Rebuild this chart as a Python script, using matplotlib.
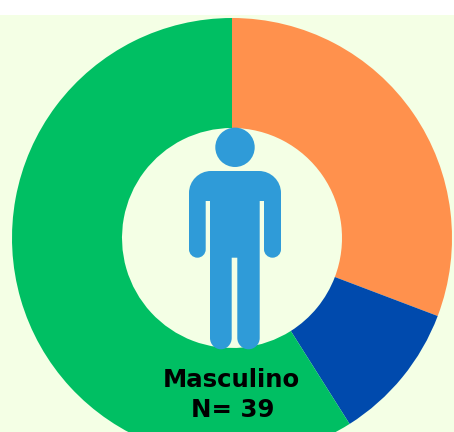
import matplotlib
matplotlib.use("Agg")
import matplotlib.pyplot as plt
from matplotlib.patches import Circle, PathPatch
from matplotlib.path import Path

# Counts
counts = [12, 4, 23]
colors = ["#FF914D", "#004AAD", "#00BF63"]
labels = ["Masculino", "N= 39"]

BG = "#F4FFE5"
ICON = "#2F9BD8"
W, H = 454, 432
K = 0.55


def Y(py):
    # picture pixels count from the top, the axes from the bottom
    return H - py


fig = plt.figure(figsize=(W / 100, H / 100), dpi=100, facecolor="white")
ax = fig.add_axes([0, 0, 1, 417 / H], facecolor=BG)

ax.pie(counts, colors=colors, startangle=90, counterclock=False,
       center=(232, Y(238)), radius=220, frame=True,
       wedgeprops={"width": 110, "linewidth": 0})
ax.set_xlim(0, W)
ax.set_ylim(0, 417)
ax.set_aspect("auto")
ax.set_xticks([])
ax.set_yticks([])
for s in ax.spines.values():
    s.set_visible(False)

# Person icon: head plus one outline for body, arms and legs
ax.add_patch(Circle((235, Y(147.3)), 19.7, facecolor=ICON, edgecolor="none", zorder=3))

verts = [(211, 171)]
codes = [Path.MOVETO]


def line(x, y):
    verts.append((x, y))
    codes.append(Path.LINETO)


def corner(cx, cy, x, y):
    # quarter round from the current point to (x, y), around the sharp corner (cx, cy)
    x0, y0 = verts[-1]
    verts.extend([(x0 + (cx - x0) * K, y0 + (cy - y0) * K),
                  (x + (cx - x) * K, y + (cy - y) * K),
                  (x, y)])
    codes.extend([Path.CURVE4] * 3)


line(259, 171)
corner(281, 171, 281, 193)
line(281, 249.4)
corner(281, 257.7, 272.5, 257.7)
corner(264, 257.7, 264, 249.4)
line(264, 201)
line(259.7, 201)
line(259.7, 338)
corner(259.7, 349.3, 248.5, 349.3)
corner(237.3, 349.3, 237.3, 338)
line(237.3, 257.7)
line(231.7, 257.7)
line(231.7, 338)
corner(231.7, 349.3, 221, 349.3)
corner(210, 349.3, 210, 338)
line(210, 201)
line(205.7, 201)
line(205.7, 249.4)
corner(205.7, 257.7, 197.4, 257.7)
corner(189, 257.7, 189, 249.4)
line(189, 193)
corner(189, 171, 211, 171)
verts.append((211, 171))
codes.append(Path.CLOSEPOLY)

path = Path([(x, Y(y)) for x, y in verts], codes)
ax.add_patch(PathPatch(path, facecolor=ICON, edgecolor="none", zorder=3))

ax.text(231.5, Y(387), labels[0], ha="center", va="baseline", color="black",
        fontsize=17.6, fontweight="bold", family="DejaVu Sans", zorder=4)
ax.text(232.5, Y(417), labels[1], ha="center", va="baseline", color="black",
        fontsize=17.6, fontweight="bold", family="DejaVu Sans", zorder=4)

fig.savefig("out.png", dpi=100)
